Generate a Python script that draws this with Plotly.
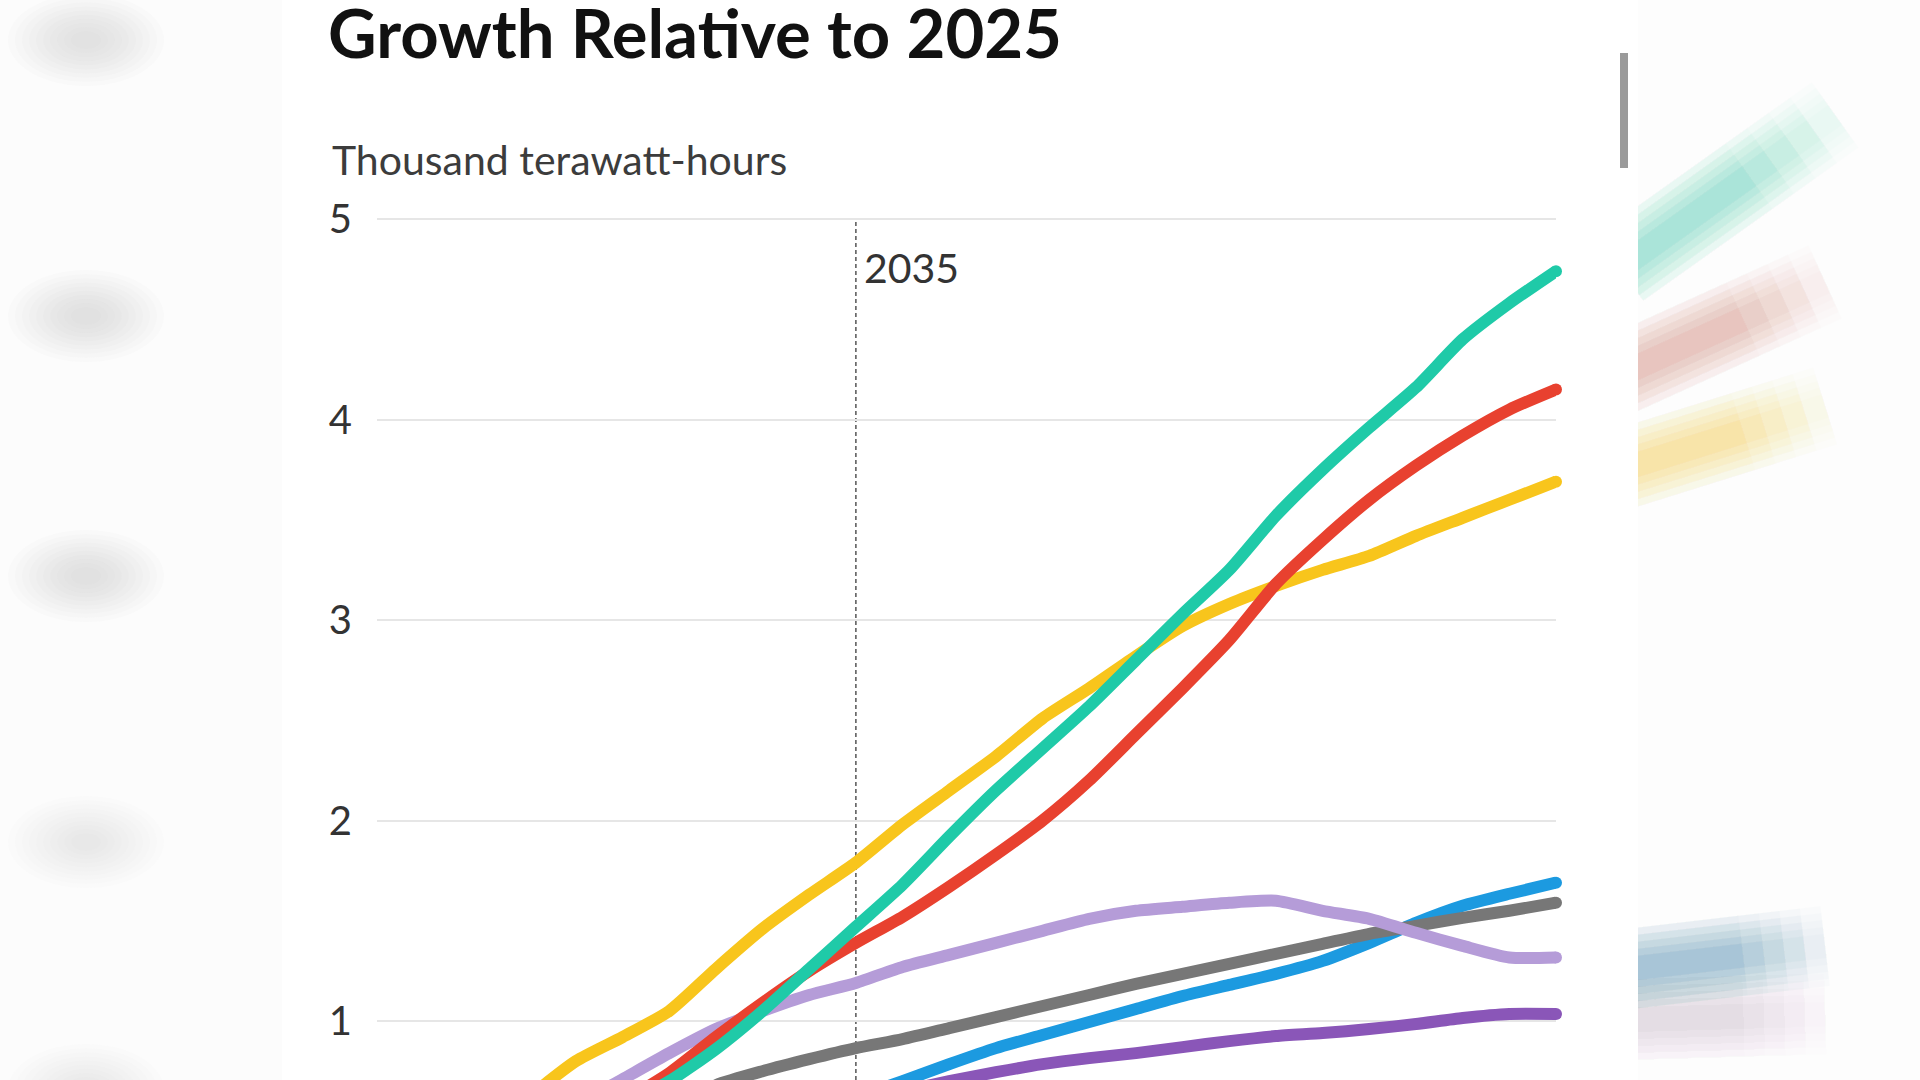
import plotly.graph_objects as go

# ---------------- data ----------------
years = list(range(2025, 2051))

teal = [0, 0.10, 0.22, 0.35, 0.48, 0.58, 0.70, 0.86, 1.05, 1.26, 1.47, 1.68, 1.92,
        2.15, 2.36, 2.57, 2.80, 3.03, 3.25, 3.52, 3.75, 3.96, 4.16, 4.40, 4.58, 4.74]
red = [0, 0.12, 0.25, 0.38, 0.50, 0.60, 0.74, 0.92, 1.09, 1.25, 1.39, 1.52, 1.67,
       1.83, 2.00, 2.20, 2.43, 2.66, 2.90, 3.18, 3.40, 3.60, 3.77, 3.92, 4.05, 4.15]
yellow = [0, 0.20, 0.40, 0.62, 0.80, 0.92, 1.05, 1.26, 1.46, 1.63, 1.79, 1.98, 2.15,
          2.32, 2.51, 2.66, 2.82, 2.97, 3.08, 3.17, 3.25, 3.32, 3.42, 3.51, 3.60, 3.69]
lavender = [0, 0.15, 0.30, 0.44, 0.58, 0.71, 0.84, 0.96, 1.05, 1.13, 1.19, 1.27, 1.33,
            1.39, 1.45, 1.51, 1.55, 1.57, 1.59, 1.60, 1.55, 1.51, 1.44, 1.375, 1.317, 1.317]
gray = [0, 0.09, 0.18, 0.27, 0.36, 0.45, 0.56, 0.68, 0.75, 0.81, 0.865, 0.91, 0.965,
        1.02, 1.075, 1.13, 1.185, 1.235, 1.285, 1.335, 1.385, 1.435, 1.475, 1.515, 1.55, 1.59]
blue = [0, 0.06, 0.12, 0.18, 0.24, 0.30, 0.36, 0.42, 0.48, 0.54, 0.62, 0.70, 0.785,
        0.865, 0.93, 0.995, 1.06, 1.125, 1.18, 1.235, 1.30, 1.39, 1.49, 1.575, 1.635, 1.69]
purple = [0, 0.06, 0.12, 0.18, 0.24, 0.30, 0.36, 0.42, 0.48, 0.54, 0.60, 0.65, 0.70,
          0.745, 0.785, 0.815, 0.84, 0.87, 0.90, 0.925, 0.94, 0.96, 0.985, 1.015, 1.035, 1.035]

y_ticks = [1, 2, 3, 4, 5]
y_tick_labels = ["1", "2", "3", "4", "5"]
marker_year = 2035

title_text = "Growth Relative to 2025"
unit_text = "Thousand terawatt-hours"

# ---------------- layout geometry ----------------
W, H = 1920, 1080
PL, PR, PT, PB = 377, 1556, 209, 1080
X_RANGE = [2024.74, 2050]
Y_RANGE = [0.706, 5.05]


def fx(p):
    return (p - PL) / (PR - PL)


def fy(p):
    return (PB - p) / (PB - PT)


series = [
    ("purple", purple, "#8A56B8"),
    ("blue", blue, "#1C9AE0"),
    ("gray", gray, "#777777"),
    ("lavender", lavender, "#B59CD8"),
    ("yellow", yellow, "#F8C51C"),
    ("red", red, "#E8412F"),
    ("teal", teal, "#1FCAA8"),
]

LW = 12
fig = go.Figure()
for name, vals, col in series:
    fig.add_trace(go.Scatter(x=years, y=vals, mode="lines", name=name,
                             line=dict(color=col, width=LW, shape="spline", smoothing=0.6),
                             hoverinfo="skip", showlegend=False))
    fig.add_trace(go.Scatter(x=[years[-1]], y=[vals[-1]], mode="markers",
                             marker=dict(color=col, size=LW, line=dict(width=0)),
                             cliponaxis=False, hoverinfo="skip", showlegend=False))

shapes = []
# left blurred strip
shapes.append(dict(type="rect", xref="paper", yref="paper", x0=fx(0), x1=fx(282),
                   y0=fy(H), y1=fy(0), fillcolor="#fcfcfc", line=dict(width=0), layer="below"))
for cy, strength in [(40, 1.1), (316, 1.0), (576, 0.95), (842, 0.85), (1090, 0.6)]:
    for i in range(10):
        k = 1.0 - i * 0.09
        rx, ry = 78 * k, 46 * k
        shapes.append(dict(type="circle", xref="paper", yref="paper",
                           x0=fx(86 - rx), x1=fx(86 + rx), y0=fy(cy + ry), y1=fy(cy - ry),
                           fillcolor="#c4c4c4", opacity=0.045 * strength,
                           line=dict(width=0), layer="below"))
# right blurred strip
shapes.append(dict(type="rect", xref="paper", yref="paper", x0=fx(1638), x1=fx(W),
                   y0=fy(H), y1=fy(0), fillcolor="#fdfdfd", line=dict(width=0), layer="below"))
streaks = [
    (1620, 268, 1835, 115, "#1FCAA8", 1.0),
    (1620, 375, 1825, 282, "#E8412F", 0.8),
    (1620, 470, 1825, 406, "#F8C51C", 0.9),
    (1620, 970, 1825, 946, "#3F86B0", 1.2),
    (1620, 1020, 1825, 1014, "#A99BC8", 0.6),
]
for x0, y0, x1, y1, col, s in streaks:
    for j in range(5):
        f = 1.0 - j * 0.1
        xe, ye = x0 + (x1 - x0) * f, y0 + (y1 - y0) * f
        for i in range(5):
            w = 80 - i * 14
            shapes.append(dict(type="line", xref="paper", yref="paper",
                               x0=fx(x0), y0=fy(y0), x1=fx(xe), y1=fy(ye),
                               line=dict(color=col, width=w), opacity=0.012 * s,
                               layer="below"))
# mask streak spill into the white card
shapes.append(dict(type="rect", xref="paper", yref="paper", x0=fx(1560), x1=fx(1638),
                   y0=fy(H), y1=fy(0), fillcolor="white", line=dict(width=0), layer="below"))
# scrollbar
shapes.append(dict(type="rect", xref="paper", yref="paper", x0=fx(1620), x1=fx(1628),
                   y0=fy(168), y1=fy(53), fillcolor="#9a9a9a", line=dict(width=0), layer="above"))
# 2035 marker line
shapes.append(dict(type="line", xref="x", yref="y", x0=marker_year, x1=marker_year,
                   y0=Y_RANGE[0], y1=5, line=dict(color="#555555", width=1.5, dash="4px,3px"),
                   layer="below"))

annotations = [
    dict(text=title_text, xref="paper", yref="paper", x=fx(326), y=fy(32),
         xanchor="left", yanchor="middle", showarrow=False,
         font=dict(family="Lato", size=67, color="#111111", weight="bold")),
    dict(text=unit_text, xref="paper", yref="paper", x=fx(330), y=fy(159),
         xanchor="left", yanchor="middle", showarrow=False,
         font=dict(family="Lato", size=41, color="#3c3c3c")),
    dict(text=str(marker_year), xref="x", yref="paper", x=marker_year, xshift=6, y=fy(267),
         xanchor="left", yanchor="middle", showarrow=False,
         font=dict(family="Lato", size=41, color="#333333")),
]

fig.update_layout(
    width=W, height=H,
    margin=dict(l=PL, r=W - PR, t=PT, b=H - PB, pad=0),
    paper_bgcolor="white", plot_bgcolor="rgba(0,0,0,0)",
    shapes=shapes, annotations=annotations,
    xaxis=dict(range=X_RANGE, visible=False, showgrid=False, zeroline=False, automargin=False),
    yaxis=dict(range=Y_RANGE, tickvals=y_ticks, ticktext=y_tick_labels, showgrid=True,
               gridcolor="#e6e6e6", gridwidth=2, zeroline=False, showline=False, ticks="",
               ticklabelstandoff=24, automargin=False,
               tickfont=dict(family="Lato", size=40, color="#333333")),
    font=dict(family="Lato"),
    showlegend=False,
)

fig.write_html("out.html", config={"displayModeBar": False})
